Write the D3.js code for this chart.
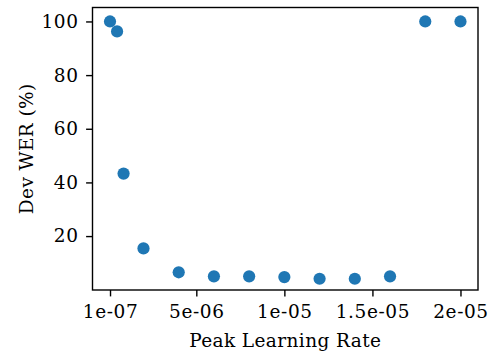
<!DOCTYPE html>
<html>
<head>
<meta charset="utf-8">
<script src="https://cdn.jsdelivr.net/npm/d3@7"></script>
<style>
  body { margin: 0; background: #fff; }
  svg text { font-family: "DejaVu Serif", serif; fill: #000; }
</style>
</head>
<body>
<div class="graphContainer"></div>
<script>
// Data
const learningRates = [1e-7, 5e-7, 8.7e-7, 2e-6, 4e-6, 6e-6, 8e-6, 1e-5, 1.2e-5, 1.4e-5, 1.6e-5, 1.8e-5, 2e-5];
const devWer = [100, 96.3, 43.3, 15.4, 6.5, 5.0, 5.0, 4.7, 4.1, 4.1, 5.0, 100, 100];
const xTicks = [1e-7, 5e-6, 1e-5, 1.5e-5, 2e-5];
const xTickLabels = ['1e-07', '5e-06', '1e-05', '1.5e-05', '2e-05'];
const yTicks = [20, 40, 60, 80, 100];

const renderChart = () => {
    const W = 496, H = 356;
    const margin = { top: 7.5, right: 18, bottom: 66, left: 92.5 };
    const width = W - margin.left - margin.right;
    const height = H - margin.top - margin.bottom;
    const fontSize = 18.5;
    const spacing = '0.6px';

    const svg = d3.select('.graphContainer')
        .append('svg')
        .attr('width', W)
        .attr('height', H);

    const g = svg.append('g')
        .attr('transform', `translate(${margin.left},${margin.top})`);

    // Scales (matplotlib-like 5% margins)
    const xMin = d3.min(learningRates), xMax = d3.max(learningRates);
    const xPad = (xMax - xMin) * 0.05;
    const x = d3.scaleLinear()
        .domain([xMin - xPad, xMax + xPad])
        .range([0, width]);

    const y = d3.scaleLinear()
        .domain([-0.1, 105.2])
        .range([height, 0]);

    // Axes
    const xAxis = g.append('g')
        .attr('transform', `translate(0,${height})`)
        .call(d3.axisBottom(x)
            .tickValues(xTicks)
            .tickFormat((d, i) => xTickLabels[i])
            .tickSizeOuter(0)
            .tickSize(6.4)
            .tickPadding(8.5));

    const yAxis = g.append('g')
        .call(d3.axisLeft(y)
            .tickValues(yTicks)
            .tickSizeOuter(0)
            .tickSize(6.4)
            .tickPadding(7.5));

    [xAxis, yAxis].forEach(ax => {
        ax.select('.domain').remove();
        ax.selectAll('line').attr('stroke', '#000').attr('stroke-width', 1.4);
        ax.selectAll('text')
            .style('font-size', fontSize + 'px')
            .style('letter-spacing', spacing)
            .style('font-family', '"DejaVu Serif", serif');
    });

    // Frame
    g.append('rect')
        .attr('width', width)
        .attr('height', height)
        .attr('fill', 'none')
        .attr('stroke', '#000')
        .attr('stroke-width', 1.4);

    // Points
    g.selectAll('.dot')
        .data(learningRates)
        .enter()
        .append('circle')
        .attr('class', 'dot')
        .attr('cx', d => x(d))
        .attr('cy', (d, i) => y(devWer[i]))
        .attr('r', 6.1)
        .attr('fill', '#1f77b4');

    // Axis labels
    svg.append('text')
        .attr('x', margin.left + width / 2)
        .attr('y', 346.5)
        .attr('text-anchor', 'middle')
        .style('font-size', fontSize + 'px')
        .style('letter-spacing', '0.4px')
        .text('Peak Learning Rate');

    svg.append('text')
        .attr('transform', `translate(33,${margin.top + height / 2}) rotate(-90)`)
        .attr('text-anchor', 'middle')
        .style('font-size', fontSize + 'px')
        .style('letter-spacing', '0.4px')
        .text('Dev WER (%)');
};

renderChart();
</script>
</body>
</html>
